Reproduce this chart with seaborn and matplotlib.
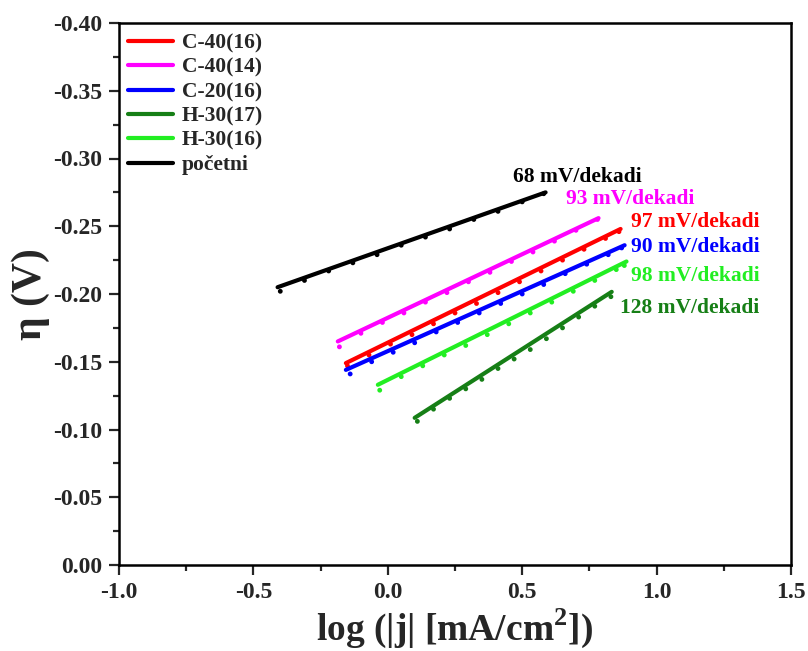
import matplotlib
matplotlib.use("Agg")
import matplotlib.pyplot as plt
from matplotlib.lines import Line2D
from matplotlib.ticker import MultipleLocator, FormatStrFormatter
import seaborn as sns
import pandas as pd

sns.set_style("white")
plt.rcParams['font.family'] = ['Liberation Serif', 'DejaVu Serif']
plt.rcParams['font.weight'] = 'bold'
plt.rcParams['mathtext.fontset'] = 'custom'
plt.rcParams['mathtext.rm'] = 'Liberation Serif:bold'
plt.rcParams['mathtext.bf'] = 'Liberation Serif:bold'

# ---- data ----
series = ["C-40(16)", "C-40(14)", "C-20(16)", "H-30(17)", "H-30(16)", "početni"]
colors = ["#FF0000", "#FF00FF", "#0000FF", "#167F16", "#22EE22", "#000000"]
slope_labels = ["97 mV/dekadi", "93 mV/dekadi", "90 mV/dekadi",
                "128 mV/dekadi", "98 mV/dekadi", "68 mV/dekadi"]
label_x = [0.905, 0.662, 0.905, 0.862, 0.905, 0.465]
label_y = [-0.253, -0.270, -0.235, -0.190, -0.213, -0.286]

# fitted Tafel lines: endpoints (log j, eta)
fit_x = {
    "C-40(16)": [-0.156, 0.866],
    "C-40(14)": [-0.186, 0.784],
    "C-20(16)": [-0.156, 0.881],
    "H-30(17)": [0.100, 0.833],
    "H-30(16)": [-0.037, 0.888],
    "početni": [-0.410, 0.587],
}
fit_y = {
    "C-40(16)": [-0.149, -0.248],
    "C-40(14)": [-0.165, -0.256],
    "C-20(16)": [-0.144, -0.236],
    "H-30(17)": [-0.1086, -0.2016],
    "H-30(16)": [-0.133, -0.224],
    "početni": [-0.205, -0.275],
}

# measured points
pts_x = {
    "C-40(16)": [-0.15, -0.07, 0.01, 0.09, 0.17, 0.25, 0.33, 0.41, 0.49, 0.57, 0.65, 0.73, 0.81, 0.86],
    "C-40(14)": [-0.18, -0.10, -0.02, 0.06, 0.14, 0.22, 0.30, 0.38, 0.46, 0.54, 0.62, 0.70, 0.78],
    "C-20(16)": [-0.14, -0.06, 0.02, 0.10, 0.18, 0.26, 0.34, 0.42, 0.50, 0.58, 0.66, 0.74, 0.82, 0.87],
    "H-30(17)": [0.11, 0.17, 0.23, 0.29, 0.35, 0.41, 0.47, 0.53, 0.59, 0.65, 0.71, 0.77, 0.83],
    "H-30(16)": [-0.03, 0.05, 0.13, 0.21, 0.29, 0.37, 0.45, 0.53, 0.61, 0.69, 0.77, 0.85, 0.88],
    "početni": [-0.40, -0.31, -0.22, -0.13, -0.04, 0.05, 0.14, 0.23, 0.32, 0.41, 0.50, 0.58],
}
pts_y = {
    "C-40(16)": [-0.147, -0.155, -0.163, -0.170, -0.178, -0.186, -0.193, -0.201, -0.209, -0.217, -0.225, -0.233, -0.241, -0.246],
    "C-40(14)": [-0.161, -0.171, -0.179, -0.186, -0.194, -0.201, -0.209, -0.216, -0.224, -0.231, -0.239, -0.247, -0.255],
    "C-20(16)": [-0.141, -0.150, -0.157, -0.164, -0.172, -0.179, -0.186, -0.193, -0.200, -0.207, -0.215, -0.222, -0.229, -0.234],
    "H-30(17)": [-0.106, -0.115, -0.123, -0.130, -0.137, -0.145, -0.152, -0.159, -0.167, -0.175, -0.183, -0.191, -0.198],
    "H-30(16)": [-0.129, -0.139, -0.147, -0.155, -0.162, -0.170, -0.178, -0.186, -0.194, -0.202, -0.210, -0.218, -0.221],
    "početni": [-0.202, -0.210, -0.217, -0.223, -0.229, -0.236, -0.242, -0.248, -0.255, -0.261, -0.268, -0.274],
}

x_ticks = [-1.0, -0.5, 0.0, 0.5, 1.0, 1.5]
y_ticks = [0.00, -0.05, -0.10, -0.15, -0.20, -0.25, -0.30, -0.35, -0.40]

# ---- build tables ----
fit_df = pd.concat([pd.DataFrame({"x": fit_x[s], "y": fit_y[s], "s": s}) for s in series])
pts_df = pd.concat([pd.DataFrame({"x": pts_x[s], "y": pts_y[s], "s": s}) for s in series])
palette = dict(zip(series, colors))

fig = plt.figure(figsize=(8.08, 6.51), dpi=100)
ax = fig.add_axes([119/808, 1-565/651, 672/808, 542/651])

sns.scatterplot(data=pts_df, x="x", y="y", hue="s", palette=palette, s=12,
                linewidth=0, legend=False, ax=ax, zorder=2)
sns.lineplot(data=fit_df, x="x", y="y", hue="s", palette=palette, lw=3.0,
             legend=False, ax=ax, estimator=None, sort=False, zorder=3)

for lab, lx, ly, c in zip(slope_labels, label_x, label_y, colors):
    ax.text(lx, ly, lab, color=c, fontsize=15.5, fontweight='bold',
            ha='left', va='center')

ax.set_xlim(-1.0, 1.5)
ax.set_ylim(0.0, -0.40)
ax.set_xticks(x_ticks)
ax.set_yticks(y_ticks)
ax.xaxis.set_major_formatter(FormatStrFormatter('%.1f'))
ax.set_yticklabels([("%.2f" % v).replace("-0.00", "0.00") for v in y_ticks])
ax.xaxis.set_minor_locator(MultipleLocator(0.25))
ax.yaxis.set_minor_locator(MultipleLocator(0.025))

ax.tick_params(axis='both', which='major', direction='out', length=7, width=1.6,
               labelsize=17, pad=5, bottom=True, left=True, top=False, right=False)
ax.tick_params(axis='both', which='minor', direction='out', length=4, width=1.6,
               bottom=True, left=True, top=False, right=False)
for lbl in ax.get_xticklabels() + ax.get_yticklabels():
    lbl.set_fontweight('bold')
for sp in ax.spines.values():
    sp.set_visible(True)
    sp.set_linewidth(1.8)
    sp.set_color('black')

ax.set_xlabel(r"log (|j| [mA/cm$^\mathbf{2}$])", fontsize=27, fontweight='bold', labelpad=3)
ax.set_ylabel("η (V)", fontsize=30, fontweight='bold', labelpad=2)

handles = [Line2D([0], [0], color=c, lw=3.0) for c in colors]
leg = ax.legend(handles, series, loc='upper left', bbox_to_anchor=(0.0134, 0.981),
                frameon=False, borderpad=0, borderaxespad=0, handlelength=2.1,
                handletextpad=0.4, labelspacing=0.2,
                prop={'family': 'Liberation Serif', 'weight': 'bold', 'size': 15.5})

fig.savefig("out.png", dpi=100)
